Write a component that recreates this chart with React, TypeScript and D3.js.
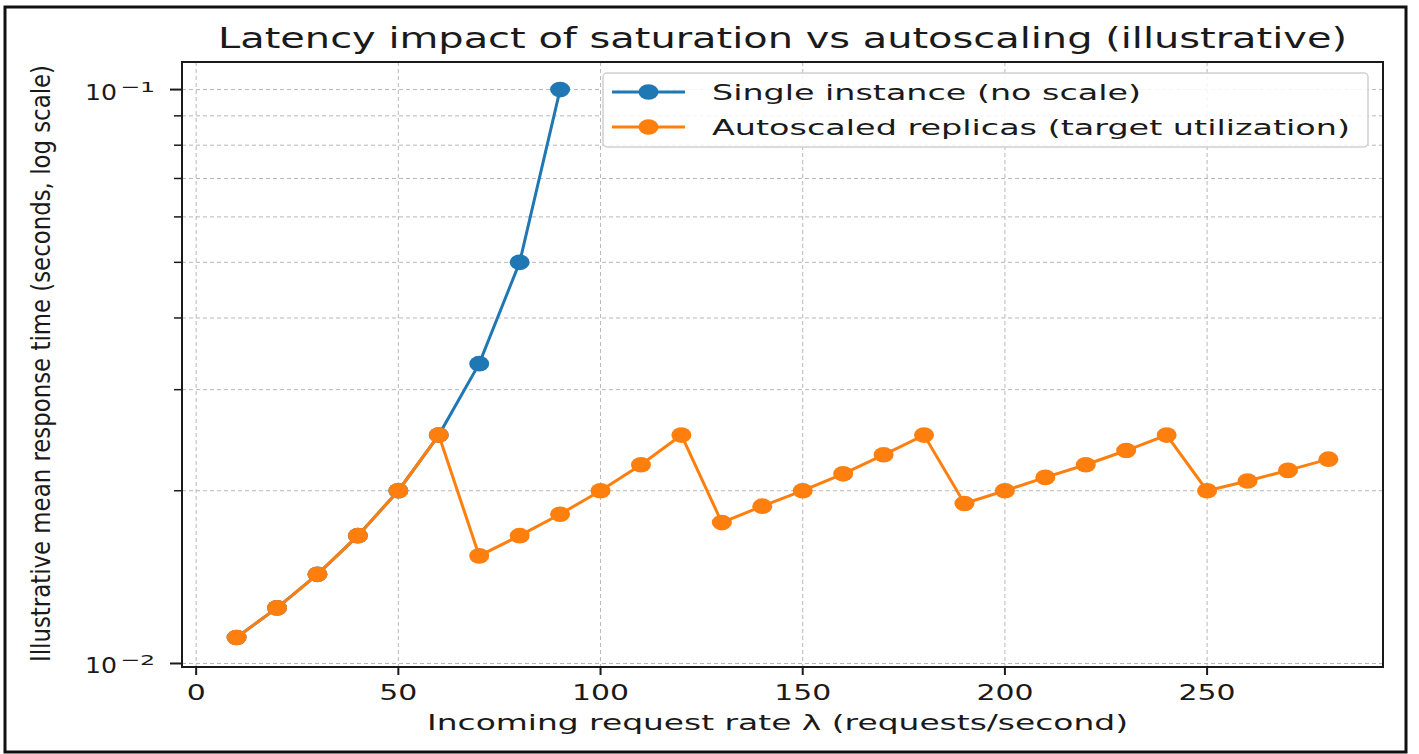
import React from "react";
import * as d3 from "d3";

// request rate (requests/second)
const rateSingle = [10, 20, 30, 40, 50, 60, 70, 80, 90];
const latencySingle = [0.0111, 0.0125, 0.0143, 0.0167, 0.02, 0.025, 0.0333, 0.05, 0.1];

const rateScaled = [
  10, 20, 30, 40, 50, 60, 70, 80, 90, 100, 110, 120, 130, 140, 150, 160, 170,
  180, 190, 200, 210, 220, 230, 240, 250, 260, 270, 280,
];
const latencyScaled = [
  0.0111, 0.0125, 0.0143, 0.0167, 0.02, 0.025, 0.0154, 0.0167, 0.0182, 0.02,
  0.0222, 0.025, 0.0176, 0.0188, 0.02, 0.0214, 0.0231, 0.025, 0.019, 0.02,
  0.0211, 0.0222, 0.0235, 0.025, 0.02, 0.0208, 0.0217, 0.0227,
];

const xTicks = [0, 50, 100, 150, 200, 250];
const yMajor = [0.01, 0.1];
const yMajorExp = ["−2", "−1"];
const yMinor = [0.02, 0.03, 0.04, 0.05, 0.06, 0.07, 0.08, 0.09];

const seriesNames = [
  "Single instance (no scale)",
  "Autoscaled replicas (target utilization)",
];
const colors = ["#1f77b4", "#ff7f0e"];

const W = 1419;
const H = 754;
const plot = { left: 182, right: 1383, top: 62, bottom: 667 };
const font = "DejaVu Sans, sans-serif";
const ink = "#1a1a1a";

const App = () => {
  const x = d3.scaleLinear().domain([-3.5, 293.5]).range([plot.left, plot.right]);
  const y = d3.scaleLog().domain([0.00986, 0.1117]).range([plot.bottom, plot.top]);

  const line = d3
    .line<[number, number]>()
    .x((d) => x(d[0]))
    .y((d) => y(d[1]));

  const single: [number, number][] = rateSingle.map((r, i) => [r, latencySingle[i]]);
  const scaled: [number, number][] = rateScaled.map((r, i) => [r, latencyScaled[i]]);
  const series = [single, scaled];

  const gridStyle = { stroke: "#b8b8b8", strokeWidth: 1, strokeDasharray: "4,3" };

  return (
    <svg
      width={W}
      height={H}
      style={{ position: "absolute", left: 0, top: 0, background: "#fff" }}
      fontFamily={font}
    >
      <rect x={0} y={0} width={W} height={H} fill="#fff" />

      {/* grid */}
      {xTicks.map((t) => (
        <line key={"gx" + t} x1={x(t)} x2={x(t)} y1={plot.top} y2={plot.bottom} {...gridStyle} />
      ))}
      {[...yMajor, ...yMinor].map((t) => (
        <line key={"gy" + t} x1={plot.left} x2={plot.right} y1={y(t)} y2={y(t)} {...gridStyle} />
      ))}

      {/* series */}
      {series.map((s, i) => (
        <g key={"s" + i}>
          <path d={line(s) || ""} fill="none" stroke={colors[i]} strokeWidth={3} />
          {s.map((d, j) => (
            <ellipse key={j} cx={x(d[0])} cy={y(d[1])} rx={10} ry={7.8} fill={colors[i]} />
          ))}
        </g>
      ))}

      {/* axes frame */}
      <rect
        x={plot.left}
        y={plot.top}
        width={plot.right - plot.left}
        height={plot.bottom - plot.top}
        fill="none"
        stroke={ink}
        strokeWidth={2}
      />

      {/* x ticks */}
      {xTicks.map((t) => (
        <g key={"xt" + t}>
          <line x1={x(t)} x2={x(t)} y1={plot.bottom} y2={plot.bottom + 8} stroke={ink} strokeWidth={2} />
          <text
            x={x(t)}
            y={700}
            fontSize={20.5}
            fill={ink}
            textAnchor="middle"
            textLength={String(t).length * 19}
            lengthAdjust="spacingAndGlyphs"
          >
            {t}
          </text>
        </g>
      ))}

      {/* y ticks */}
      {yMajor.map((t, i) => (
        <g key={"ym" + t}>
          <line x1={plot.left - 12} x2={plot.left} y1={y(t)} y2={y(t)} stroke={ink} strokeWidth={2} />
          <text x={85} y={y(t) + 10} fontSize={20.5} fill={ink} textLength={32} lengthAdjust="spacingAndGlyphs">
            10
          </text>
          <text x={120} y={y(t) + 2} fontSize={14.5} fill={ink} textLength={35} lengthAdjust="spacingAndGlyphs">
            {yMajorExp[i]}
          </text>
        </g>
      ))}
      {yMinor.map((t) => (
        <line key={"yn" + t} x1={plot.left - 8} x2={plot.left} y1={y(t)} y2={y(t)} stroke={ink} strokeWidth={1.5} />
      ))}

      {/* title */}
      <text x={218} y={48} fontSize={28} fill={ink} textLength={1129} lengthAdjust="spacingAndGlyphs">
        Latency impact of saturation vs autoscaling (illustrative)
      </text>

      {/* x label */}
      <text x={427} y={730} fontSize={20.5} fill={ink} textLength={701} lengthAdjust="spacingAndGlyphs">
        Incoming request rate λ (requests/second)
      </text>

      {/* y label */}
      <text
        transform="translate(50,363.5) scale(1.3,1) rotate(-90)"
        fontSize={21}
        fill={ink}
        textAnchor="middle"
        textLength={597}
        lengthAdjust="spacingAndGlyphs"
      >
        Illustrative mean response time (seconds, log scale)
      </text>

      {/* legend */}
      <rect x={603} y={73} width={765} height={74} rx={4} fill="#fff" fillOpacity={0.85} stroke="#d0d0d0" strokeWidth={1.5} />
      {seriesNames.map((name, i) => {
        const ry = 92 + i * 35;
        return (
          <g key={"lg" + i}>
            <line x1={612} x2={685} y1={ry} y2={ry} stroke={colors[i]} strokeWidth={3} />
            <ellipse cx={648.5} cy={ry} rx={10} ry={7.8} fill={colors[i]} />
            <text
              x={712}
              y={ry + 8}
              fontSize={22}
              fill={ink}
              textLength={i === 0 ? 429 : 638}
              lengthAdjust="spacingAndGlyphs"
            >
              {name}
            </text>
          </g>
        );
      })}

      {/* outer frame */}
      <rect x={5} y={7} width={1401} height={745} fill="none" stroke="#111" strokeWidth={3} />
    </svg>
  );
};

export default App;
